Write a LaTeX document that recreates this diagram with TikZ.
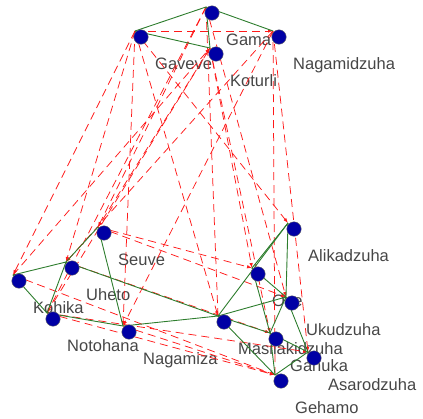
\documentclass[tikz,border=0pt]{standalone}
\usepackage{fontspec}
\setmainfont{Liberation Sans}
\usetikzlibrary{calc,arrows.meta}

\definecolor{posgreen}{RGB}{45,125,45}
\definecolor{vertblue}{RGB}{0,0,165}
\definecolor{lblgray}{RGB}{70,70,70}

\begin{document}
\begin{tikzpicture}[x=1pt,y=-1pt,
	vert/.style={circle,draw=black!60,fill=vertblue,inner sep=0pt,minimum size=14.5pt},
	lbl/.style={anchor=base west,text=lblgray,inner sep=0pt,font=\fontsize{16.5}{18}\selectfont},
	allyline/.style={draw=posgreen,line width=0.9pt},
	foeline/.style={draw=red!90,line width=0.75pt,dash pattern=on 8pt off 5pt,-{Latex[length=5pt,width=3.5pt]}}]
	\useasboundingbox (0,0) rectangle (423,418);
	
	
	
	% tribes (edge points sit up-left of the dots)
	\foreach \n/\x/\y in {gaveve/141/37, gama/212/13, nagamidzuha/279/37, koturli/216/54,
		seuve/104/233, uheto/72/268, kohika/19/281, notohana/53/319, nagamiza/129/332,
		masil/224/322, alika/294/229, ove/258/274, ukudz/292/303, gahuka/276/339,
		asaro/314/358, gehamo/281/381}
		\coordinate (\n) at (\x-6,\y-6);
	
	
	
	% names
	\foreach \n/\t in {gaveve/Gaveve, gama/Gama, nagamidzuha/Nagamidzuha, koturli/Koturli,
		seuve/Seuve, uheto/Uheto, kohika/Kohika, notohana/Notohana, nagamiza/Nagamiza,
		masil/Masilakidzuha, alika/Alikadzuha, ove/Ove, ukudz/Ukudzuha, gahuka/Gahuka,
		asaro/Asarodzuha, gehamo/Gehamo}
		\node[lbl] (\n-l) at ($(\n)+(20,38)$) {\t};
	
	
	
	% hostile ties
	\foreach \a/\b in {gaveve/nagamidzuha, gaveve/kohika, kohika/koturli, gaveve/uheto,
		koturli/seuve, gaveve/nagamiza, notohana/koturli, gama/seuve, nagamidzuha/uheto,
		gama/notohana, masil/gama, koturli/gahuka, gaveve/alika, nagamidzuha/asaro,
		gehamo/nagamidzuha, koturli/ove, gaveve/masil, gama/ukudz, uheto/gahuka,
		seuve/ukudz, kohika/gehamo, notohana/gehamo, nagamiza/gehamo, seuve/ove,
		nagamidzuha/nagamiza, notohana/asaro}
		\draw[foeline] (\a) -- (\b);
	
	
	
	% friendly ties
	\foreach \a/\b in {gaveve/gama, gama/nagamidzuha, gaveve/koturli, gama/koturli,
		kohika/uheto, kohika/notohana, uheto/notohana, uheto/seuve, seuve/nagamiza,
		notohana/nagamiza, nagamiza/masil, uheto/masil,
		alika/ove, alika/masil, alika/ukudz, ove/ukudz, ove/gahuka, ukudz/masil,
		ukudz/gahuka, ukudz/asaro, masil/gahuka, masil/gehamo, gahuka/asaro,
		gahuka/gehamo, asaro/gehamo}
		\draw[allyline] (\a) -- (\b);
	
	
	
	% dots
	\foreach \n in {gaveve,gama,nagamidzuha,koturli,seuve,uheto,kohika,notohana,
		nagamiza,masil,alika,ove,ukudz,gahuka,asaro,gehamo}
		\node[vert] (\n-c) at ($(\n)+(6,6)$) {};
	 
\end{tikzpicture}
\end{document}
